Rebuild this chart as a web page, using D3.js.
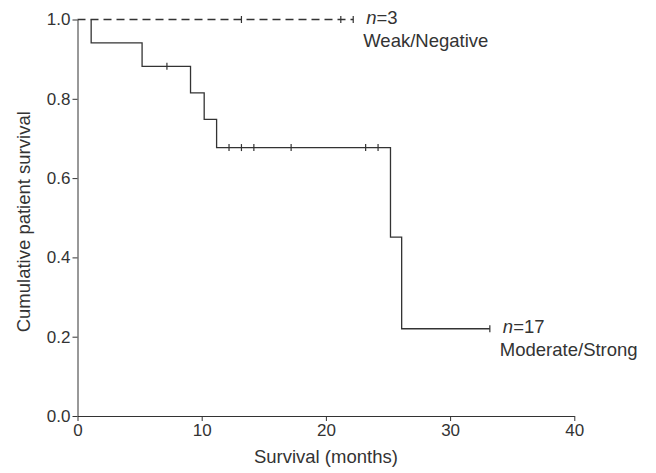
<html>
<head>
<script src="https://d3js.org/d3.v7.min.js"></script>
<style>
  body { margin: 0; background: #fff; }
  text { font-family: "Liberation Sans", Arial, sans-serif; fill: #333; }
</style>
</head>
<body>
<svg id="plot" width="656" height="473"></svg>
<script>
// Data
const xTicks = [0, 10, 20, 30, 40];
const yTicks = [0, 0.2, 0.4, 0.6, 0.8, 1.0];

// Moderate/Strong group (n=17)
const strongTimes = [0, 1.1, 5.2, 9.1, 10.2, 11.2, 25.2, 26.1, 33.2];
const strongSurv  = [1, 0.941, 0.882, 0.815, 0.748, 0.677, 0.451, 0.220, 0.220];
const strongCensor = [7.2, 12.2, 13.2, 14.2, 17.2, 23.2, 24.2, 33.2];

// Weak/Negative group (n=3)
const weakTimes = [0, 22.2];
const weakSurv  = [1, 1];
const weakCensor = [13.2, 21.2, 22.2];

const labels = [
  { n: "3", name: "Weak/Negative", t: 22.2, s: 1.0 },
  { n: "17", name: "Moderate/Strong", t: 33.2, s: 0.220 }
];

const svg = d3.select("#plot");
const ink = "#333";
const tickFont = 17, textFont = 18.5;

// Scales
const x = d3.scaleLinear().domain([0, 40]).range([77.5, 574.3]);
const y = d3.scaleLinear().domain([0, 1]).range([416, 19.5]);

// Axes
svg.append("g")
  .attr("transform", "translate(0," + y(0) + ")")
  .call(d3.axisBottom(x).tickValues(xTicks).tickSize(5).tickSizeOuter(0).tickPadding(3))
  .call(g => g.selectAll("path, line").attr("stroke", ink))
  .call(g => g.selectAll("text").attr("font-size", tickFont).attr("font-family", null).style("fill", ink));

svg.append("g")
  .attr("transform", "translate(" + x(0) + ",0)")
  .call(d3.axisLeft(y).tickValues(yTicks).tickFormat(d3.format(".1f")).tickSize(5).tickSizeOuter(0).tickPadding(2))
  .call(g => g.selectAll("path, line").attr("stroke", ink))
  .call(g => g.selectAll("text").attr("font-size", tickFont).attr("font-family", null).style("fill", ink));

// Axis titles
svg.append("text")
  .attr("x", (x(0) + x(40)) / 2)
  .attr("y", 463)
  .attr("text-anchor", "middle")
  .attr("font-size", textFont)
  .text("Survival (months)");

svg.append("text")
  .attr("transform", "translate(30," + ((y(0) + y(1)) / 2 + 4) + ") rotate(-90)")
  .attr("text-anchor", "middle")
  .attr("font-size", textFont)
  .text("Cumulative patient survival");

// Step curves
const step = d3.line()
  .x(d => x(d[0]))
  .y(d => y(d[1]))
  .curve(d3.curveStepAfter);

const survAt = (times, surv, t) => surv[d3.bisectRight(times, t) - 1];

// Weak/Negative: dashed
svg.append("path")
  .datum(d3.zip(weakTimes, weakSurv))
  .attr("d", step)
  .attr("fill", "none")
  .attr("stroke", ink)
  .attr("stroke-width", 1.3)
  .attr("stroke-dasharray", "8,5");

// Moderate/Strong: solid, drawn from the first event
const strongPts = d3.zip(strongTimes, strongSurv).slice(1);
strongPts.unshift([strongTimes[1], strongSurv[0]]);
svg.append("path")
  .datum(strongPts)
  .attr("d", step)
  .attr("fill", "none")
  .attr("stroke", ink)
  .attr("stroke-width", 1.3);

// Censor marks
function censor(times, surv, cens) {
  svg.append("g")
    .selectAll("line")
    .data(cens).enter()
    .append("line")
    .attr("x1", d => x(d))
    .attr("x2", d => x(d))
    .attr("y1", d => y(survAt(times, surv, d)) - 3.5)
    .attr("y2", d => y(survAt(times, surv, d)) + 3.5)
    .attr("stroke", ink)
    .attr("stroke-width", 1.2);
}
censor(weakTimes, weakSurv, weakCensor);
censor(strongTimes, strongSurv, strongCensor);

// Group labels
labels.forEach(l => {
  const tx = x(l.t) + 10, ty = y(l.s) + 4;
  const t1 = svg.append("text").attr("x", tx + 3).attr("y", ty).attr("font-size", textFont);
  t1.append("tspan").attr("font-style", "italic").text("n");
  t1.append("tspan").text("=" + l.n);
  svg.append("text").attr("x", tx).attr("y", ty + 23).attr("font-size", textFont).text(l.name);
});
</script>
</body>
</html>
